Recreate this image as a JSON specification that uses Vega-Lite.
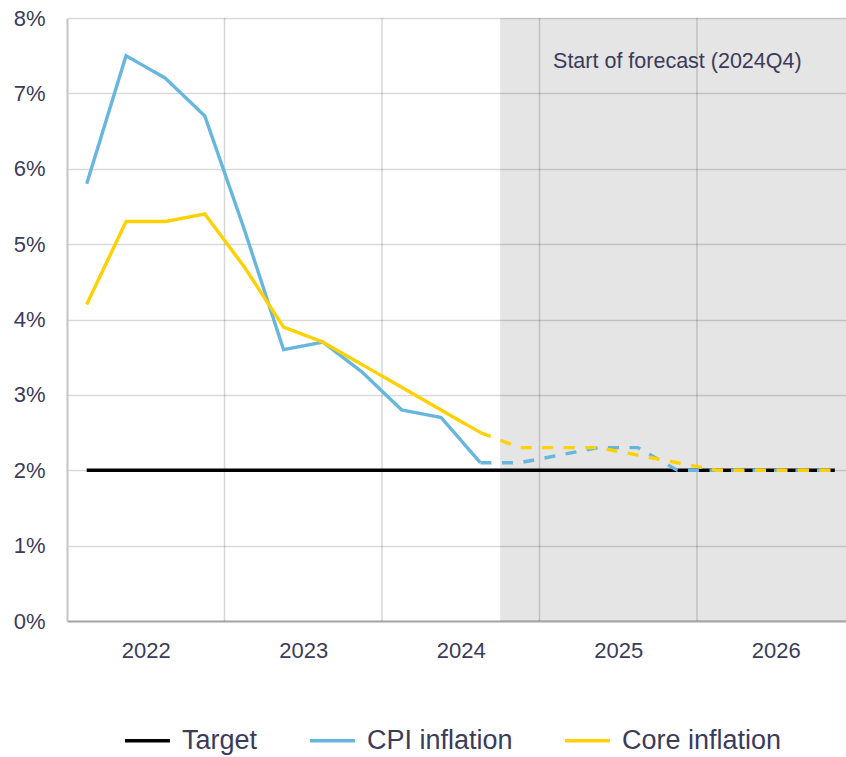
{
  "$schema": "https://vega.github.io/schema/vega-lite/v6.json",
  "autosize": {"type": "none"},
  "width": 779,
  "height": 603,
  "padding": {"left": 67, "top": 18, "right": 0, "bottom": 136},
  "background": "white",
  "config": {
    "font": "Liberation Sans",
    "view": {"stroke": null},
    "axis": {"labelColor": "#3b3b5c", "labelFont": "Liberation Sans", "ticks": false, "title": null}
  },
  "datasets": {
    "series": [
      {"q": 2022.125, "s": "Target", "t": "actual", "v": 2.0},
      {"q": 2022.375, "s": "Target", "t": "actual", "v": 2.0},
      {"q": 2022.625, "s": "Target", "t": "actual", "v": 2.0},
      {"q": 2022.875, "s": "Target", "t": "actual", "v": 2.0},
      {"q": 2023.125, "s": "Target", "t": "actual", "v": 2.0},
      {"q": 2023.375, "s": "Target", "t": "actual", "v": 2.0},
      {"q": 2023.625, "s": "Target", "t": "actual", "v": 2.0},
      {"q": 2023.875, "s": "Target", "t": "actual", "v": 2.0},
      {"q": 2024.125, "s": "Target", "t": "actual", "v": 2.0},
      {"q": 2024.375, "s": "Target", "t": "actual", "v": 2.0},
      {"q": 2024.625, "s": "Target", "t": "actual", "v": 2.0},
      {"q": 2024.875, "s": "Target", "t": "actual", "v": 2.0},
      {"q": 2025.125, "s": "Target", "t": "actual", "v": 2.0},
      {"q": 2025.375, "s": "Target", "t": "actual", "v": 2.0},
      {"q": 2025.625, "s": "Target", "t": "actual", "v": 2.0},
      {"q": 2025.875, "s": "Target", "t": "actual", "v": 2.0},
      {"q": 2026.125, "s": "Target", "t": "actual", "v": 2.0},
      {"q": 2026.375, "s": "Target", "t": "actual", "v": 2.0},
      {"q": 2026.625, "s": "Target", "t": "actual", "v": 2.0},
      {"q": 2026.875, "s": "Target", "t": "actual", "v": 2.0},

      {"q": 2022.125, "s": "CPI inflation", "t": "actual", "v": 5.8},
      {"q": 2022.375, "s": "CPI inflation", "t": "actual", "v": 7.5},
      {"q": 2022.625, "s": "CPI inflation", "t": "actual", "v": 7.2},
      {"q": 2022.875, "s": "CPI inflation", "t": "actual", "v": 6.7},
      {"q": 2023.125, "s": "CPI inflation", "t": "actual", "v": 5.2},
      {"q": 2023.375, "s": "CPI inflation", "t": "actual", "v": 3.6},
      {"q": 2023.625, "s": "CPI inflation", "t": "actual", "v": 3.7},
      {"q": 2023.875, "s": "CPI inflation", "t": "actual", "v": 3.3},
      {"q": 2024.125, "s": "CPI inflation", "t": "actual", "v": 2.8},
      {"q": 2024.375, "s": "CPI inflation", "t": "actual", "v": 2.7},
      {"q": 2024.625, "s": "CPI inflation", "t": "actual", "v": 2.1},
      {"q": 2024.625, "s": "CPI inflation", "t": "forecast", "v": 2.1},
      {"q": 2024.875, "s": "CPI inflation", "t": "forecast", "v": 2.1},
      {"q": 2025.125, "s": "CPI inflation", "t": "forecast", "v": 2.2},
      {"q": 2025.375, "s": "CPI inflation", "t": "forecast", "v": 2.3},
      {"q": 2025.625, "s": "CPI inflation", "t": "forecast", "v": 2.3},
      {"q": 2025.875, "s": "CPI inflation", "t": "forecast", "v": 2.0},
      {"q": 2026.125, "s": "CPI inflation", "t": "forecast", "v": 2.0},
      {"q": 2026.375, "s": "CPI inflation", "t": "forecast", "v": 2.0},
      {"q": 2026.625, "s": "CPI inflation", "t": "forecast", "v": 2.0},
      {"q": 2026.875, "s": "CPI inflation", "t": "forecast", "v": 2.0},

      {"q": 2022.125, "s": "Core inflation", "t": "actual", "v": 4.2},
      {"q": 2022.375, "s": "Core inflation", "t": "actual", "v": 5.3},
      {"q": 2022.625, "s": "Core inflation", "t": "actual", "v": 5.3},
      {"q": 2022.875, "s": "Core inflation", "t": "actual", "v": 5.4},
      {"q": 2023.125, "s": "Core inflation", "t": "actual", "v": 4.7},
      {"q": 2023.375, "s": "Core inflation", "t": "actual", "v": 3.9},
      {"q": 2023.625, "s": "Core inflation", "t": "actual", "v": 3.7},
      {"q": 2023.875, "s": "Core inflation", "t": "actual", "v": 3.4},
      {"q": 2024.125, "s": "Core inflation", "t": "actual", "v": 3.1},
      {"q": 2024.375, "s": "Core inflation", "t": "actual", "v": 2.8},
      {"q": 2024.625, "s": "Core inflation", "t": "actual", "v": 2.5},
      {"q": 2024.625, "s": "Core inflation", "t": "forecast", "v": 2.5},
      {"q": 2024.875, "s": "Core inflation", "t": "forecast", "v": 2.3},
      {"q": 2025.125, "s": "Core inflation", "t": "forecast", "v": 2.3},
      {"q": 2025.375, "s": "Core inflation", "t": "forecast", "v": 2.3},
      {"q": 2025.625, "s": "Core inflation", "t": "forecast", "v": 2.2},
      {"q": 2025.875, "s": "Core inflation", "t": "forecast", "v": 2.1},
      {"q": 2026.125, "s": "Core inflation", "t": "forecast", "v": 2.0},
      {"q": 2026.375, "s": "Core inflation", "t": "forecast", "v": 2.0},
      {"q": 2026.625, "s": "Core inflation", "t": "forecast", "v": 2.0},
      {"q": 2026.875, "s": "Core inflation", "t": "forecast", "v": 2.0}
    ]
  },
  "layer": [
    {
      "data": {"values": [{"x": 2024.75, "x2": 2026.946, "y": 0, "y2": 8}]},
      "mark": {"type": "rect", "fill": "#000000", "opacity": 0.1, "clip": true},
      "encoding": {
        "x": {
          "field": "x", "type": "quantitative",
          "scale": {"domain": [2022, 2026.946], "nice": false, "zero": false},
          "axis": {
            "values": [2022.5, 2023.5, 2024.5, 2025.5, 2026.5],
            "labelExpr": "floor(datum.value)",
            "grid": false,
            "labelFontSize": 22,
            "labelPadding": 19,
            "domainColor": "#a6a6a6",
            "domainWidth": 2,
            "labelFlush": false
          }
        },
        "x2": {"field": "x2"},
        "y": {
          "field": "y", "type": "quantitative",
          "scale": {"domain": [0, 8], "nice": false},
          "axis": {
            "values": [0, 1, 2, 3, 4, 5, 6, 7, 8],
            "labelExpr": "datum.value + '%'",
            "grid": true,
            "gridColor": "#d9d9d9",
            "gridWidth": 1.5,
            "labelFontSize": 22,
            "labelPadding": 22,
            "domainColor": "#c4c4c4",
            "domainWidth": 2,
            "labelFlush": false
          }
        },
        "y2": {"field": "y2"}
      }
    },
    {
      "data": {"values": [{"x": 2023}, {"x": 2024}, {"x": 2025}, {"x": 2026}]},
      "mark": {"type": "rule", "color": "#000000", "opacity": 0.16, "strokeWidth": 1.5},
      "encoding": {
        "x": {"field": "x", "type": "quantitative"}
      }
    },
    {
      "data": {"name": "series"},
      "mark": {"type": "line", "strokeCap": "butt", "strokeJoin": "miter", "clip": true},
      "encoding": {
        "x": {"field": "q", "type": "quantitative"},
        "y": {"field": "v", "type": "quantitative"},
        "color": {
          "field": "s", "type": "nominal",
          "scale": {"domain": ["Target", "CPI inflation", "Core inflation"], "range": ["#000000", "#67b6de", "#ffd100"]},
          "legend": {
            "title": null,
            "orient": "none",
            "legendX": 56,
            "legendY": 698,
            "direction": "horizontal",
            "symbolType": "stroke",
            "symbolSize": 2025,
            "symbolStrokeWidth": 3.5,
            "labelFontSize": 27,
            "labelColor": "#3b3b5c",
            "labelFont": "Liberation Sans",
            "labelOffset": 10,
            "columnPadding": 45,
            "labelLimit": 400
          }
        },
        "strokeDash": {
          "field": "t", "type": "nominal",
          "scale": {"domain": ["actual", "forecast"], "range": [[1, 0], [11, 10.5]]},
          "legend": null
        },
        "strokeWidth": {
          "condition": {"test": "datum.s === 'Target'", "value": 3.6},
          "value": 3.4
        }
      }
    },
    {
      "data": {"values": [{"x": 2025.086, "y": 7.42, "label": "Start of forecast (2024Q4)"}]},
      "mark": {"type": "text", "align": "left", "baseline": "middle", "fontSize": 21.5, "color": "#3b3b5c", "font": "Liberation Sans"},
      "encoding": {
        "x": {"field": "x", "type": "quantitative"},
        "y": {"field": "y", "type": "quantitative"},
        "text": {"field": "label"}
      }
    }
  ]
}
